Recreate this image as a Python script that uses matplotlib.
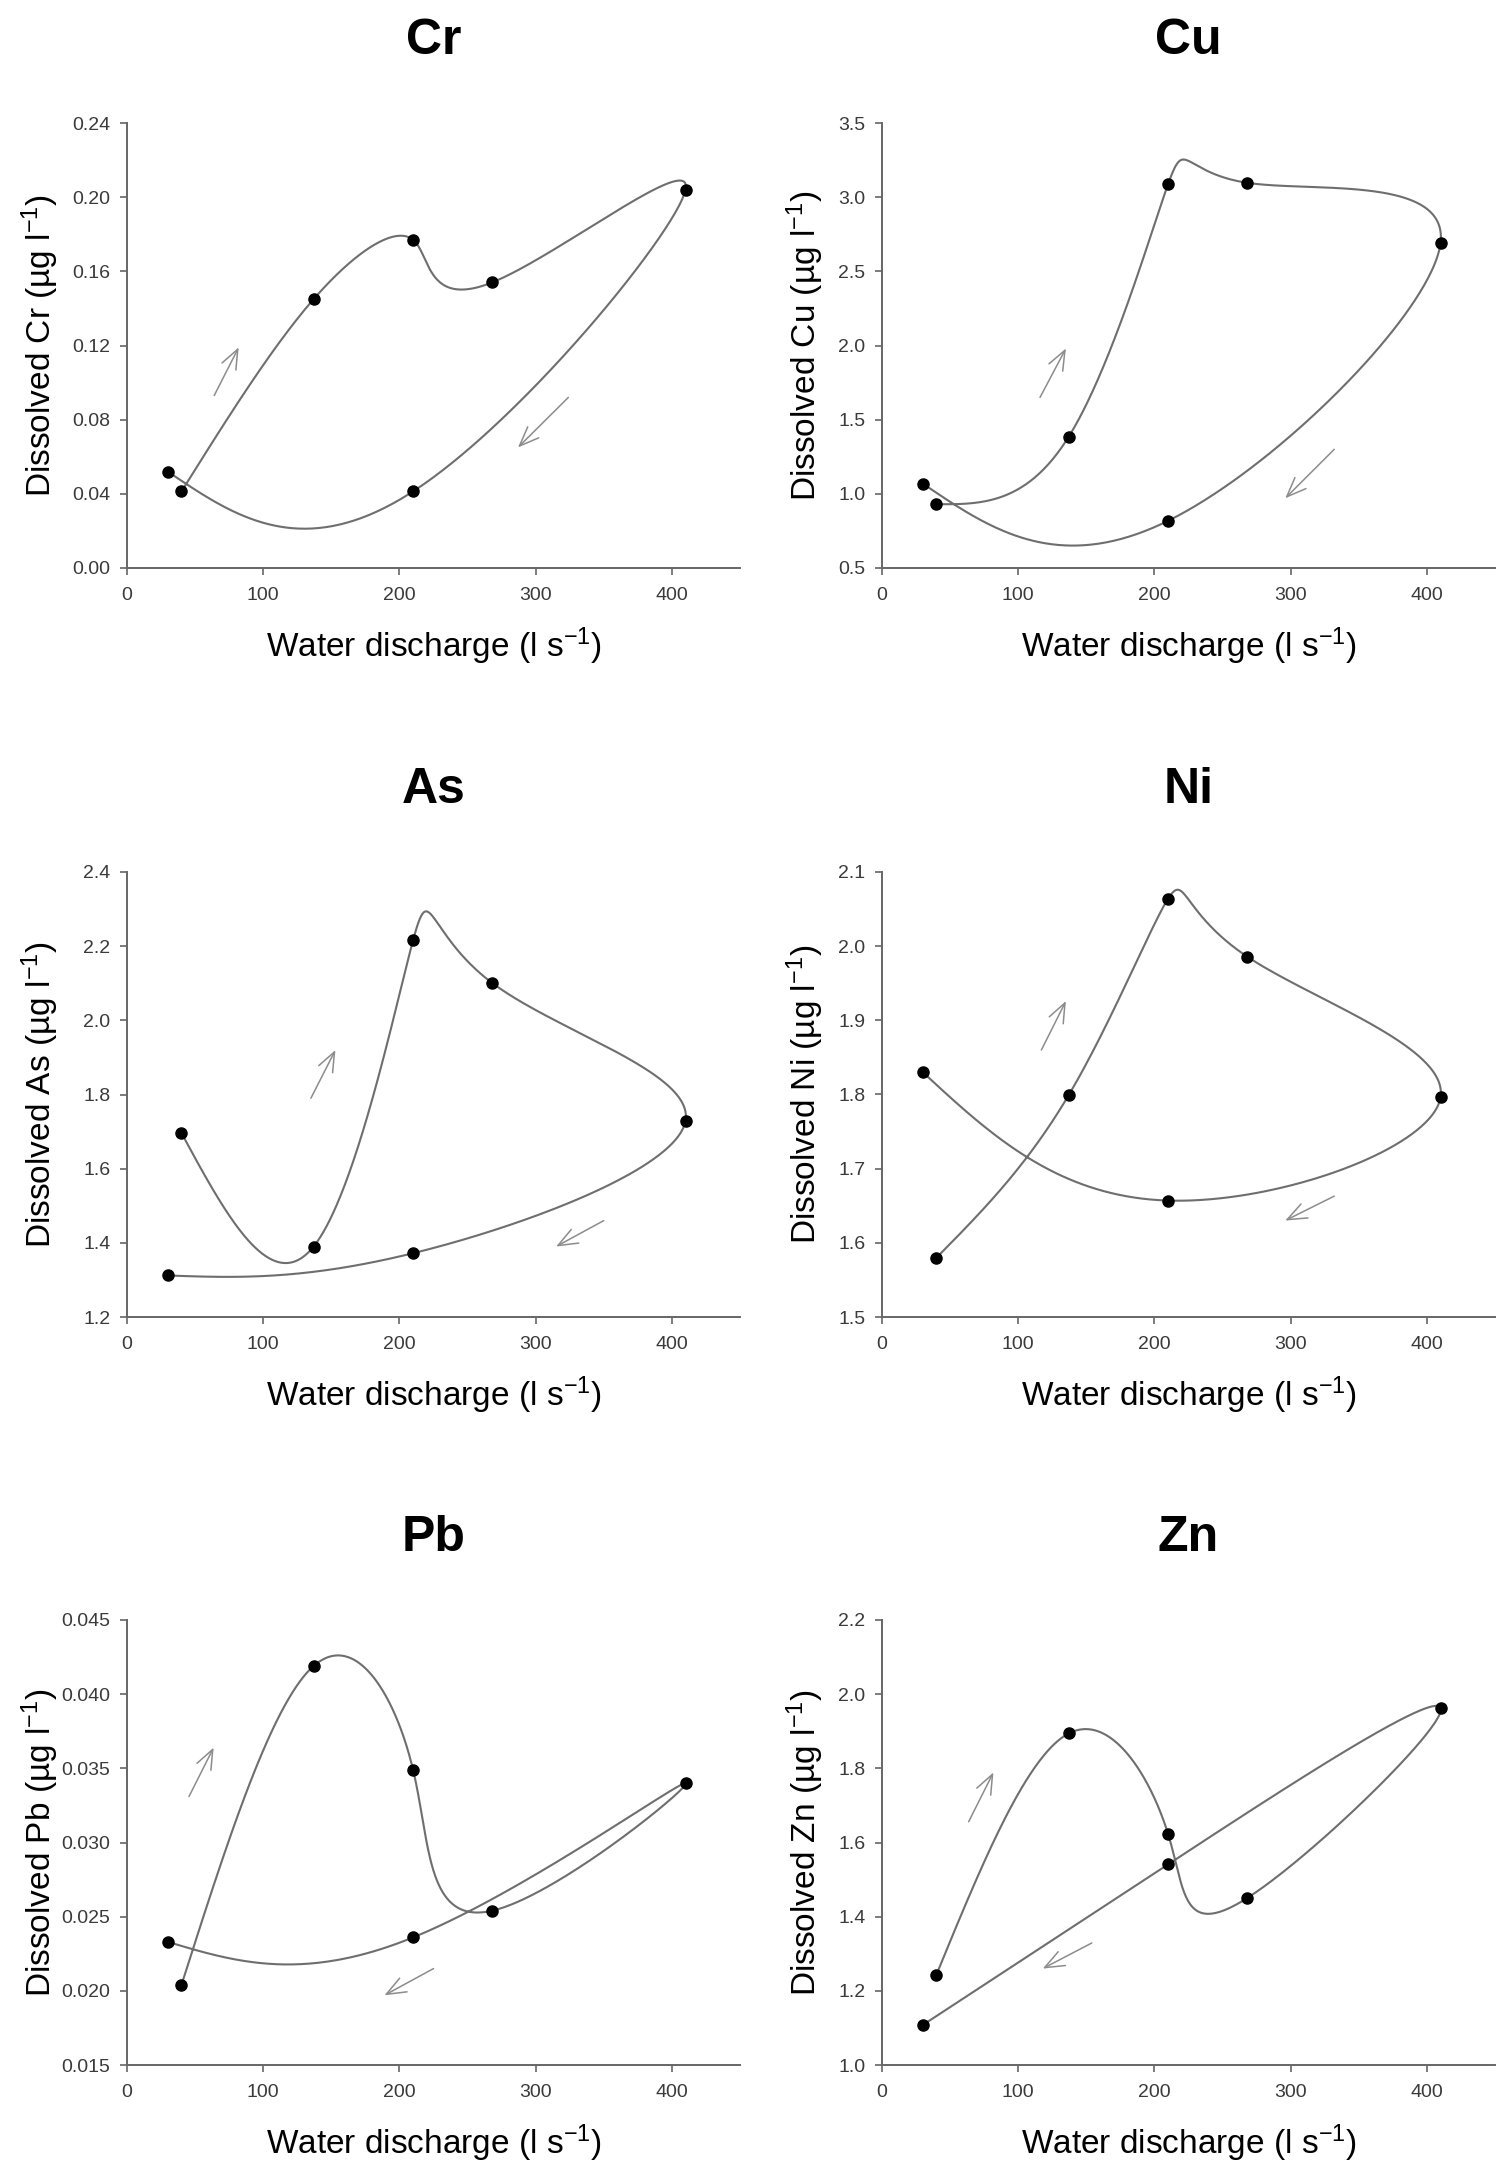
import numpy as np
import matplotlib
matplotlib.use("Agg")
import matplotlib.pyplot as plt
from matplotlib.ticker import FormatStrFormatter

plt.rcParams['font.family'] = ['Liberation Sans', 'DejaVu Sans']
plt.rcParams['mathtext.fontset'] = 'custom'
plt.rcParams['mathtext.rm'] = 'Liberation Sans'
plt.rcParams['mathtext.it'] = 'Liberation Sans:italic'
plt.rcParams['mathtext.bf'] = 'Liberation Sans:bold'

# ---------------- data (sampling order along the hydrograph) ----------------
discharge = [40, 137, 210, 268, 410, 210, 30]

cr = [0.0413, 0.145, 0.177, 0.154, 0.204, 0.0413, 0.052]
cu = [0.93, 1.384, 3.088, 3.097, 2.69, 0.818, 1.069]
as_ = [1.696, 1.39, 2.216, 2.101, 1.729, 1.372, 1.312]
ni = [1.580, 1.799, 2.064, 1.986, 1.796, 1.657, 1.830]
pb = [0.0204, 0.0419, 0.0349, 0.0254, 0.0340, 0.0236, 0.0233]
zn = [1.244, 1.894, 1.623, 1.450, 1.964, 1.541, 1.108]

elements = ['Cr', 'Cu', 'As', 'Ni', 'Pb', 'Zn']
series = [cr, cu, as_, ni, pb, zn]
y_limits = [(0.0, 0.24), (0.5, 3.5), (1.2, 2.4), (1.5, 2.1), (0.015, 0.045), (1.0, 2.2)]
y_steps = [0.04, 0.5, 0.2, 0.1, 0.005, 0.2]
y_formats = ['%.2f', '%.1f', '%.1f', '%.1f', '%.3f', '%.1f']
x_ticks = [0, 100, 200, 300, 400]

# arrows: (tail_x, tail_y, head_x, head_y) for rising and falling limbs
up_arrows = [(64, 0.093, 82, 0.119), (116, 1.65, 135, 1.98), (135, 1.79, 153, 1.92),
             (117, 1.86, 135, 1.926), (45.5, 0.0331, 63.6, 0.0364), (63.6, 1.656, 81.8, 1.789)]
down_arrows = [(324, 0.092, 287, 0.065), (332, 1.30, 296, 0.97), (350, 1.46, 315, 1.39),
               (332, 1.663, 296, 1.630), (225, 0.0215, 189, 0.0197), (154, 1.329, 118, 1.260)]


def natural_spline(t, y, tt):
    t = np.asarray(t, float)
    y = np.asarray(y, float)
    n = len(t)
    h = np.diff(t)
    A = np.zeros((n, n))
    b = np.zeros(n)
    A[0, 0] = 1.0
    A[-1, -1] = 1.0
    for i in range(1, n - 1):
        A[i, i - 1] = h[i - 1]
        A[i, i] = 2 * (h[i - 1] + h[i])
        A[i, i + 1] = h[i]
        b[i] = 6 * ((y[i + 1] - y[i]) / h[i] - (y[i] - y[i - 1]) / h[i - 1])
    M = np.linalg.solve(A, b)
    out = np.empty_like(tt)
    idx = np.clip(np.searchsorted(t, tt) - 1, 0, n - 2)
    for k, (ti, i) in enumerate(zip(tt, idx)):
        hi = h[i]
        a = (t[i + 1] - ti) / hi
        c = (ti - t[i]) / hi
        out[k] = (a * y[i] + c * y[i + 1]
                  + ((a ** 3 - a) * M[i] + (c ** 3 - c) * M[i + 1]) * hi ** 2 / 6)
    return out


W, H = 1499, 2167
fig = plt.figure(figsize=(W / 100, H / 100), dpi=100)

col_left = [127, 882]
row_top = [123, 872, 1620]
ax_w, ax_h = 613, 445

line_col = '#6e6e6e'
spine_col = '#666666'
arrow_col = '#8c8c8c'

for k, name in enumerate(elements):
    r, c = divmod(k, 2)
    left = col_left[c] / W
    bottom = 1 - (row_top[r] + ax_h) / H
    ax = fig.add_axes([left, bottom, ax_w / W, ax_h / H])

    x = np.asarray(discharge, float)
    y = np.asarray(series[k], float)
    ylo, yhi = y_limits[k]
    # parametric natural cubic spline (uniform parameter) through the samples
    xn = x / 450.0
    yn = (y - ylo) / (yhi - ylo)
    t = np.arange(len(x), dtype=float)
    tt = np.linspace(0, len(x) - 1, 700)
    sx = natural_spline(t, xn, tt) * 450.0
    sy = natural_spline(t, yn, tt) * (yhi - ylo) + ylo
    ax.plot(sx, sy, color=line_col, lw=1.5, zorder=2, solid_capstyle='round')
    ax.plot(x, y, 'o', color='black', ms=8, zorder=3)

    for (x0, y0, x1, y1) in (up_arrows[k], down_arrows[k]):
        ax.annotate('', xy=(x1, y1), xytext=(x0, y0),
                    arrowprops=dict(arrowstyle='->,head_length=0.7,head_width=0.28',
                                    color=arrow_col, lw=1.1, shrinkA=0, shrinkB=0,
                                    mutation_scale=20))

    ax.set_xlim(0, 450)
    ax.set_ylim(ylo, yhi)
    ax.set_xticks(x_ticks)
    n_ticks = int(round((yhi - ylo) / y_steps[k])) + 1
    ax.set_yticks([ylo + i * y_steps[k] for i in range(n_ticks)])
    ax.yaxis.set_major_formatter(FormatStrFormatter(y_formats[k]))

    for s in ['top', 'right']:
        ax.spines[s].set_visible(False)
    for s in ['left', 'bottom']:
        ax.spines[s].set_color(spine_col)
        ax.spines[s].set_linewidth(1.4)
    ax.tick_params(direction='out', length=5, width=1.2, color=spine_col,
                   labelsize=14, labelcolor='#3a3a3a')
    ax.tick_params(axis='y', pad=7)
    ax.tick_params(axis='x', pad=9)

    ax.set_xlabel('Water discharge (l s$^{-1}$)', fontsize=24, va='center')
    ax.xaxis.set_label_coords(0.5, -78 / ax_h)
    ax.set_ylabel('Dissolved %s (µg l$^{-1}$)' % name, fontsize=24, va='center')
    ax.yaxis.set_label_coords((-87 if c == 0 else -77) / ax_w, 0.5)

    ax.text(0.5, 1 + 82 / ax_h, name, transform=ax.transAxes, ha='center',
            va='center', fontsize=36, fontweight='bold')

fig.savefig('out.png', dpi=100, facecolor='white')
